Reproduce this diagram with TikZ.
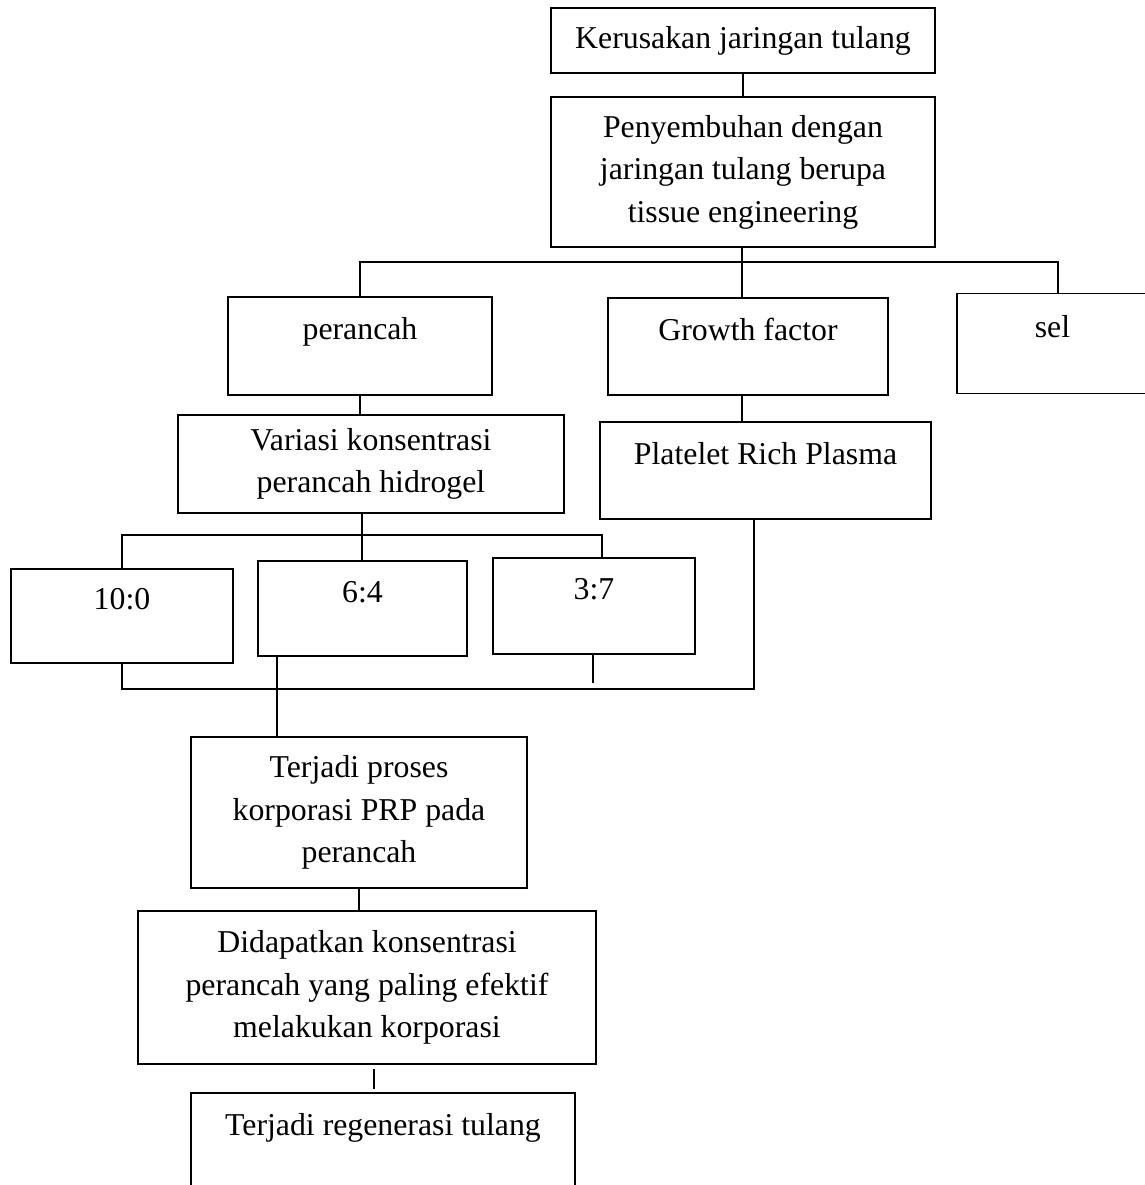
\documentclass[tikz,border=0pt]{standalone}
\usepackage{fontspec}
\setmainfont{Liberation Serif}
\usepackage{tikz}

\begin{document}
\begin{tikzpicture}[
  x=0.5pt, y=-0.5pt,
  every node/.style={font=\fontsize{15.9}{21.25}\selectfont},
  box/.style={draw, line width=0.95pt, inner sep=0pt, align=center},
  upper/.style={text height=11pt, text depth=17.5pt},
  link/.style={line width=0.95pt}
]
  \clip (0,0) rectangle (1145,1185);

  \node[box, minimum width=192pt, minimum height=32.5pt] (kerusakan) at (743,40.5) {Kerusakan jaringan tulang};
  \node[box, minimum width=192pt, minimum height=75pt] (penyembuhan) at (743,172) {Penyembuhan dengan\\jaringan tulang berupa\\tissue engineering};

  \node[box, upper, minimum width=132pt, minimum height=49pt] (perancah) at (360,346) {perancah};
  \node[box, upper, minimum width=140pt, minimum height=48.5pt] (growth) at (748,346.5) {Growth factor};
  \node[box, upper, minimum width=95.5pt, minimum height=50pt] (sel) at (1052.5,343.5) {sel};

  \node[box, minimum width=193pt, minimum height=49pt] (variasi) at (371,464) {Variasi konsentrasi\\perancah hidrogel};
  \node[box, upper, minimum width=165.5pt, minimum height=48.5pt] (prp) at (765.5,470.5) {Platelet Rich Plasma};

  \node[box, upper, minimum width=111pt, minimum height=47pt] (r100) at (122,616) {10:0};
  \node[box, upper, minimum width=104.5pt, minimum height=47.5pt] (r64) at (362.5,608.5) {6:4};
  \node[box, upper, minimum width=101pt, minimum height=48pt] (r37) at (594,606) {3:7};

  \node[box, minimum width=168pt, minimum height=75.5pt] (proses) at (359,812.5) {Terjadi proses\\korporasi PRP pada\\perancah};
  \node[box, minimum width=229pt, minimum height=76.5pt] (didapat) at (367,987.5) {Didapatkan konsentrasi\\perancah yang paling efektif\\melakukan korporasi};
  \node[box, upper, minimum width=192pt, minimum height=48.5pt] (regenerasi) at (383,1141.5) {Terjadi regenerasi tulang};

  \coordinate (fork) at (742,262);
  \coordinate (fork2) at (362,535);
  \coordinate (join) at (754,689);
  \coordinate (stub) at (593,683);
  \coordinate (drop) at ([xshift=10pt]r64.south west);
  \coordinate (gap) at (374,1064);

  \draw[link] (kerusakan.south) -- (penyembuhan.north);
  \draw[link] (penyembuhan.south -| fork) -- (fork |- growth.north);
  \draw[link] (perancah.north) |- (fork) -| ([xshift=2.75pt]sel.north);
  \draw[link] (perancah.south) -- (perancah.south |- variasi.north);
  \draw[link] (fork |- growth.south) -- (fork |- prp.north);

  \draw[link] (fork2 |- variasi.south) -- (fork2 |- r64.north);
  \draw[link] (r100.north) |- (fork2) -| ([xshift=4pt]r37.north);
  \draw[link] (r100.south) |- (join) -- (join |- prp.south);
  \draw[link] (r37.south -| stub) -- (stub);

  \draw[link] (drop) -- (drop |- proses.north);
  \draw[link] (proses.south) -- (proses.south |- didapat.north);
  \draw[link, shorten <=2pt, shorten >=1.5pt] (gap |- didapat.south) -- (gap |- regenerasi.north);
\end{tikzpicture}
\end{document}
